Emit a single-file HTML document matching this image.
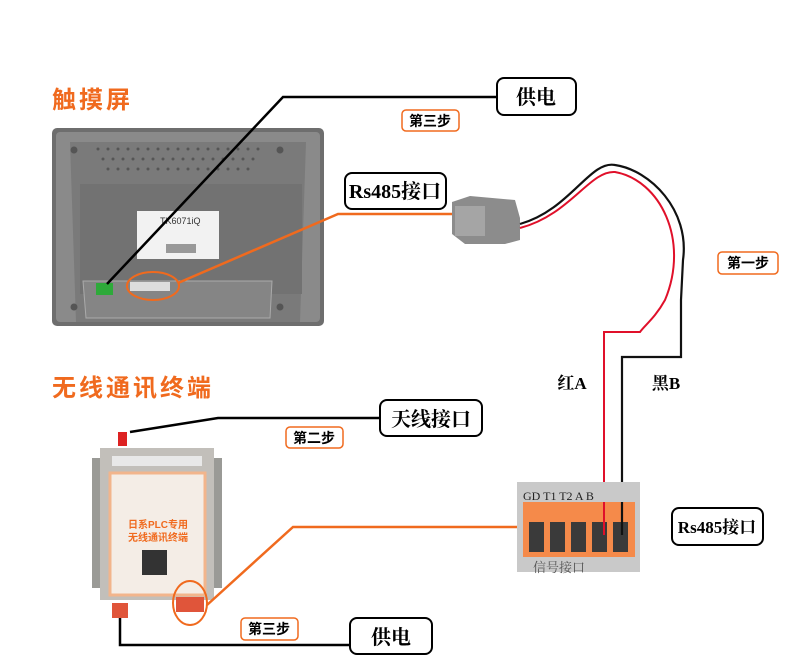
<!DOCTYPE html>
<html><head><meta charset="utf-8"><style>
body{margin:0;background:#fff;width:800px;height:672px;overflow:hidden;font-family:"Liberation Serif","Noto Serif CJK SC",serif}
svg{display:block}
.t{font-family:"Liberation Sans","Noto Sans CJK SC",sans-serif;font-weight:bold}
</style></head><body>
<svg width="800" height="672" viewBox="0 0 800 672">
<!-- touchscreen -->
<rect x="52" y="128" width="272" height="198" rx="5" fill="#6e6e6e"/>
<rect x="56" y="132" width="264" height="190" rx="4" fill="#8a8a8a"/>
<path d="M70 142 L306 142 L300 322 L76 322 Z" fill="#7a7a7a"/>
<rect x="80" y="184" width="222" height="110" fill="#727272"/>
<g fill="#555">
<circle cx="74" cy="150" r="3.5"/><circle cx="280" cy="150" r="3.5"/><circle cx="74" cy="307" r="3.5"/><circle cx="280" cy="307" r="3.5"/>
</g>
<g fill="#555">
<circle cx="98" cy="149" r="1.5"/><circle cx="108" cy="149" r="1.5"/><circle cx="118" cy="149" r="1.5"/><circle cx="128" cy="149" r="1.5"/><circle cx="138" cy="149" r="1.5"/><circle cx="148" cy="149" r="1.5"/><circle cx="158" cy="149" r="1.5"/><circle cx="168" cy="149" r="1.5"/><circle cx="178" cy="149" r="1.5"/><circle cx="188" cy="149" r="1.5"/><circle cx="198" cy="149" r="1.5"/><circle cx="208" cy="149" r="1.5"/><circle cx="218" cy="149" r="1.5"/><circle cx="228" cy="149" r="1.5"/><circle cx="238" cy="149" r="1.5"/><circle cx="248" cy="149" r="1.5"/><circle cx="258" cy="149" r="1.5"/>
<circle cx="103" cy="159" r="1.5"/><circle cx="113" cy="159" r="1.5"/><circle cx="123" cy="159" r="1.5"/><circle cx="133" cy="159" r="1.5"/><circle cx="143" cy="159" r="1.5"/><circle cx="153" cy="159" r="1.5"/><circle cx="163" cy="159" r="1.5"/><circle cx="173" cy="159" r="1.5"/><circle cx="183" cy="159" r="1.5"/><circle cx="193" cy="159" r="1.5"/><circle cx="203" cy="159" r="1.5"/><circle cx="213" cy="159" r="1.5"/><circle cx="223" cy="159" r="1.5"/><circle cx="233" cy="159" r="1.5"/><circle cx="243" cy="159" r="1.5"/><circle cx="253" cy="159" r="1.5"/>
<circle cx="108" cy="169" r="1.5"/><circle cx="118" cy="169" r="1.5"/><circle cx="128" cy="169" r="1.5"/><circle cx="138" cy="169" r="1.5"/><circle cx="148" cy="169" r="1.5"/><circle cx="158" cy="169" r="1.5"/><circle cx="168" cy="169" r="1.5"/><circle cx="178" cy="169" r="1.5"/><circle cx="188" cy="169" r="1.5"/><circle cx="198" cy="169" r="1.5"/><circle cx="208" cy="169" r="1.5"/><circle cx="218" cy="169" r="1.5"/><circle cx="228" cy="169" r="1.5"/><circle cx="238" cy="169" r="1.5"/><circle cx="248" cy="169" r="1.5"/>
</g>
<rect x="137" y="211" width="82" height="48" fill="#f2f2f2"/>
<text x="160" y="224" font-size="9" font-family="Liberation Sans" fill="#333">TK6071iQ</text>
<rect x="166" y="244" width="30" height="9" fill="#999"/>
<path d="M83 281 L272 281 L270 318 L86 318 Z" fill="#858585" stroke="#aaa"/>
<rect x="96" y="283" width="17" height="12" fill="#2eaa3a"/>
<rect x="130" y="282" width="40" height="9" fill="#ddd"/>
<ellipse cx="153" cy="286" rx="26" ry="14" fill="none" stroke="#f06a1e" stroke-width="2"/>
<!-- lines top -->
<polyline points="107,284 283,97 497,97" fill="none" stroke="#000" stroke-width="2.5"/>
<polyline points="178,283 338,214 452,214" fill="none" stroke="#f06a1e" stroke-width="2.5"/>
<!-- DB9 connector -->
<path d="M452 202 L470 196 L515 200 L520 218 L520 240 L505 244 L465 244 L452 234 Z" fill="#8c8c8c"/>
<rect x="455" y="206" width="30" height="30" fill="#a5a5a5"/>
<!-- wires -->
<path d="M520 224 C570 210 590 160 615 165 C650 170 690 210 683 260 L681 300 L681 357 L622 357 L622 532" fill="none" stroke="#111" stroke-width="2.2"/>
<path d="M520 228 C570 215 590 170 615 172 C660 180 690 240 665 300 C655 318 645 325 640 332 L604 332 L604 532" fill="none" stroke="#e0102a" stroke-width="2"/>
<!-- titles -->
<text x="52" y="108" class="t" font-size="24" fill="#f06a1e" letter-spacing="3">触摸屏</text>
<text x="52" y="396" class="t" font-size="24" fill="#f06a1e" letter-spacing="3">无线通讯终端</text>
<!-- boxes -->
<g fill="#fff" stroke="#000" stroke-width="2">
<rect x="497" y="78" width="79" height="37" rx="7"/>
<rect x="345" y="173" width="101" height="36" rx="7"/>
<rect x="380" y="400" width="102" height="36" rx="7"/>
<rect x="350" y="618" width="82" height="36" rx="7"/>
<rect x="672" y="508" width="91" height="37" rx="7"/>
</g>
<g font-size="20" font-weight="bold" text-anchor="middle">
<text x="536" y="104">供电</text>
<text x="395" y="198">Rs485接口</text>
<text x="431" y="426">天线接口</text>
<text x="391" y="644">供电</text>
<text x="717" y="533" font-size="17">Rs485接口</text>
<text x="572" y="389" font-size="17">红A</text>
<text x="666" y="389" font-size="17">黑B</text>
</g>
<g fill="#fff" stroke="#f06a1e" stroke-width="1.5">
<rect x="402" y="110" width="57" height="21" rx="4"/>
<rect x="718" y="252" width="60" height="22" rx="4"/>
<rect x="286" y="427" width="57" height="21" rx="4"/>
<rect x="241" y="618" width="57" height="22" rx="4"/>
</g>
<g class="t" font-size="14" text-anchor="middle">
<text x="430" y="126">第三步</text>
<text x="748" y="268">第一步</text>
<text x="314" y="443">第二步</text>
<text x="269" y="634">第三步</text>
</g>
<!-- device -->
<polyline points="130,432 218,418 380,418" fill="none" stroke="#000" stroke-width="2.5"/>
<rect x="118" y="432" width="9" height="14" fill="#d22"/>
<rect x="92" y="458" width="130" height="130" fill="#9a9a96"/>
<rect x="100" y="448" width="114" height="152" fill="#c2bfba"/>
<rect x="112" y="456" width="90" height="10" fill="#e8e8e8"/>
<rect x="110" y="473" width="95" height="122" fill="#f4ede6" stroke="#f2b58c" stroke-width="3"/>
<text x="158" y="528" class="t" font-size="10" fill="#f06a1e" text-anchor="middle">日系PLC专用</text>
<text x="158" y="541" class="t" font-size="10" fill="#f06a1e" text-anchor="middle">无线通讯终端</text>
<rect x="142" y="550" width="25" height="25" fill="#333"/>
<rect x="112" y="603" width="16" height="15" fill="#e0553a"/>
<rect x="176" y="597" width="28" height="15" fill="#e0553a"/>
<ellipse cx="190" cy="603" rx="17" ry="22" fill="none" stroke="#f06a1e" stroke-width="2"/>
<polyline points="207,605 293,527 518,527" fill="none" stroke="#f06a1e" stroke-width="2.5"/>
<polyline points="120,618 120,645 350,645" fill="none" stroke="#000" stroke-width="2.5"/>
<!-- terminal block -->
<rect x="517" y="482" width="123" height="90" fill="#c9c9c9"/>
<text x="523" y="500" font-size="12" fill="#222">GD T1 T2 A  B</text>
<rect x="523" y="502" width="112" height="55" fill="#f58a4a"/>
<g fill="#3a3a3a"><rect x="529" y="522" width="15" height="30"/><rect x="550" y="522" width="15" height="30"/><rect x="571" y="522" width="15" height="30"/><rect x="592" y="522" width="15" height="30"/><rect x="613" y="522" width="15" height="30"/></g>
<line x1="604" y1="502" x2="604" y2="535" stroke="#e0102a" stroke-width="2"/>
<line x1="622" y1="502" x2="622" y2="535" stroke="#111" stroke-width="2.2"/>
<text x="533" y="572" font-size="13" fill="#555">信号接口</text>
</svg>
</body></html>
